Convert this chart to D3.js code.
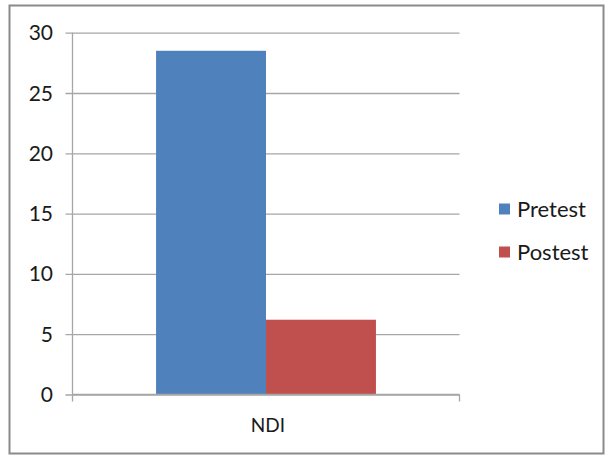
<!DOCTYPE html>
<html><head><meta charset="utf-8">
<script src="https://cdn.jsdelivr.net/npm/d3@7"></script>
<style>body{margin:0;background:#fff}svg{display:block}</style>
</head><body>
<script>
const categories = ["NDI"];
const seriesNames = ["Pretest", "Postest"];
const pretest = [28.5];
const postest = [6.2];
const yTicks = [0, 5, 10, 15, 20, 25, 30];
const colors = ["#4F81BD", "#C0504D"];

(function () {
const W = 608, H = 455;
const font = "Lato, 'Open Sans', sans-serif";
const svg = d3.select("body").append("svg").attr("width", W).attr("height", H);

svg.append("rect").attr("x", 9.5).attr("y", 5.5).attr("width", 594).attr("height", 448)
  .attr("fill", "#fff").attr("stroke", "#8a8a8a").attr("stroke-width", 2);

const pl = 72.5, pr = 459.5, pt = 32.7, pb = 394.5;
const x = d3.scaleBand().domain(categories).range([pl, pr]).paddingOuter(0.38).paddingInner(0);
const y = d3.scaleLinear().domain([0, 30]).range([pb, pt]);
const xs = d3.scaleBand().domain(seriesNames).range([0, x.bandwidth()]);

// gridlines
const yAxis = d3.axisLeft(y).tickValues(yTicks).tickSize(-(pr - pl)).tickPadding(0).tickFormat("");
const gGrid = svg.append("g").attr("transform", `translate(${pl},0)`).call(yAxis);
gGrid.select(".domain").remove();
gGrid.selectAll("line").attr("stroke", "#a6a6a6").attr("stroke-width", 1.3).attr("x1", -7);

// bars
const data = categories.map((c, i) => ({c, vals: [pretest[i], postest[i]]}));
const g = svg.append("g");
data.forEach(d => {
  d.vals.forEach((v, j) => {
    g.append("rect")
      .attr("x", x(d.c) + xs(seriesNames[j]))
      .attr("y", y(v))
      .attr("width", xs.bandwidth())
      .attr("height", y(0) - y(v))
      .attr("fill", colors[j]);
  });
});

// y axis line and labels
svg.append("line").attr("x1", pl).attr("x2", pl).attr("y1", pt).attr("y2", pb)
  .attr("stroke", "#a6a6a6").attr("stroke-width", 1.3);
svg.append("g").selectAll("text").data(yTicks).join("text")
  .attr("x", 53).attr("y", d => y(d)).attr("dy", "0.36em")
  .attr("text-anchor", "end").attr("font-family", font).attr("font-size", 21).attr("fill", "#1a1a1a")
  .text(d => d);

// x axis
const xAxis = d3.axisBottom(x).tickSize(0).tickFormat("");
const gx = svg.append("g").attr("transform", `translate(0,${pb})`).call(xAxis);
gx.select(".domain").attr("stroke", "#a6a6a6").attr("stroke-width", 1.3).attr("d", `M${pl},0H${pr}`);
gx.selectAll(".tick").remove();
[pl, pr].forEach(px => {
  svg.append("line").attr("x1", px).attr("x2", px).attr("y1", pb).attr("y2", pb + 7)
    .attr("stroke", "#a6a6a6").attr("stroke-width", 1.3);
});
svg.append("g").selectAll("text").data(categories).join("text")
  .attr("x", d => x(d) + x.bandwidth() / 2 + 2).attr("y", 425).attr("dy", "0.36em")
  .attr("text-anchor", "middle").attr("font-family", font).attr("font-size", 19).attr("fill", "#1a1a1a")
  .text(d => d);

// legend
const leg = svg.append("g");
seriesNames.forEach((s, i) => {
  const cy = 209 + i * 43;
  leg.append("rect").attr("x", 499).attr("y", cy - 5.5).attr("width", 11).attr("height", 11).attr("fill", colors[i]);
  leg.append("text").attr("x", 517).attr("y", cy).attr("dy", "0.36em")
    .attr("font-family", font).attr("font-size", 22).attr("fill", "#1a1a1a").text(s);
});
})();
</script>
</body></html>
